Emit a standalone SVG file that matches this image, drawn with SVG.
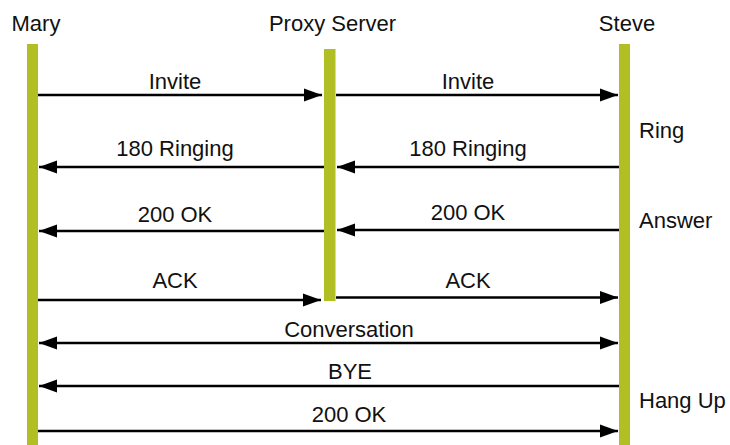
<svg xmlns="http://www.w3.org/2000/svg" width="730" height="445" viewBox="0 0 730 445">
<style>
text{font-family:"Liberation Sans",Arial,Helvetica,sans-serif;font-size:22px;fill:#111}
.m{text-anchor:middle}
.bar{fill:#b1bf24}
.msg{stroke:#000;stroke-width:2.6;fill:none}
.end{marker-end:url(#ah)}
.both{marker-start:url(#ahs);marker-end:url(#ah)}
</style>
<defs>
<marker id="ah" markerUnits="userSpaceOnUse" markerWidth="18" markerHeight="14" refX="18" refY="7" orient="auto"><path d="M0,0.5 L18,7 L0,13.5 z" fill="#000"/></marker>
<marker id="ahs" markerUnits="userSpaceOnUse" markerWidth="18" markerHeight="14" refX="0" refY="7" orient="auto"><path d="M18,0.5 L0,7 L18,13.5 z" fill="#000"/></marker>
</defs>
<g id="mary"><rect class="bar" x="27" y="44" width="11" height="401"/><text class="m" x="36" y="31">Mary</text></g>
<g id="proxy"><rect class="bar" x="324" y="49" width="11.5" height="252"/><text class="m" x="332.5" y="31">Proxy Server</text></g>
<g id="steve"><rect class="bar" x="619" y="44" width="11" height="401"/><text class="m" x="627" y="31">Steve</text></g>
<g id="events"><text x="639" y="138">Ring</text><text x="639" y="228">Answer</text><text x="639" y="408">Hang Up</text></g>
<g id="connectors">
<line class="msg end" x1="38" y1="95" x2="322" y2="95"/>
<line class="msg end" x1="336" y1="95" x2="618" y2="95"/>
<line class="msg end" x1="324" y1="167" x2="39" y2="167"/>
<line class="msg end" x1="619" y1="167" x2="337" y2="167"/>
<line class="msg end" x1="324" y1="231" x2="39" y2="231"/>
<line class="msg end" x1="619" y1="230" x2="337" y2="230"/>
<line class="msg end" x1="38" y1="300" x2="321" y2="300"/>
<line class="msg end" x1="336" y1="297.5" x2="618" y2="297.5"/>
<line class="msg both" x1="39" y1="343" x2="618" y2="343"/>
<line class="msg end" x1="619" y1="386" x2="39" y2="386"/>
<line class="msg end" x1="38" y1="431" x2="618" y2="431"/>
</g>
<g id="labels">
<text class="m" x="175" y="89">Invite</text>
<text class="m" x="468" y="89">Invite</text>
<text class="m" x="175" y="156">180 Ringing</text>
<text class="m" x="468" y="156">180 Ringing</text>
<text class="m" x="175" y="222">200 OK</text>
<text class="m" x="468" y="220">200 OK</text>
<text class="m" x="175" y="288">ACK</text>
<text class="m" x="468" y="288">ACK</text>
<text class="m" x="349" y="337">Conversation</text>
<text class="m" x="350" y="379">BYE</text>
<text class="m" x="349" y="422">200 OK</text>
</g>
</svg>
